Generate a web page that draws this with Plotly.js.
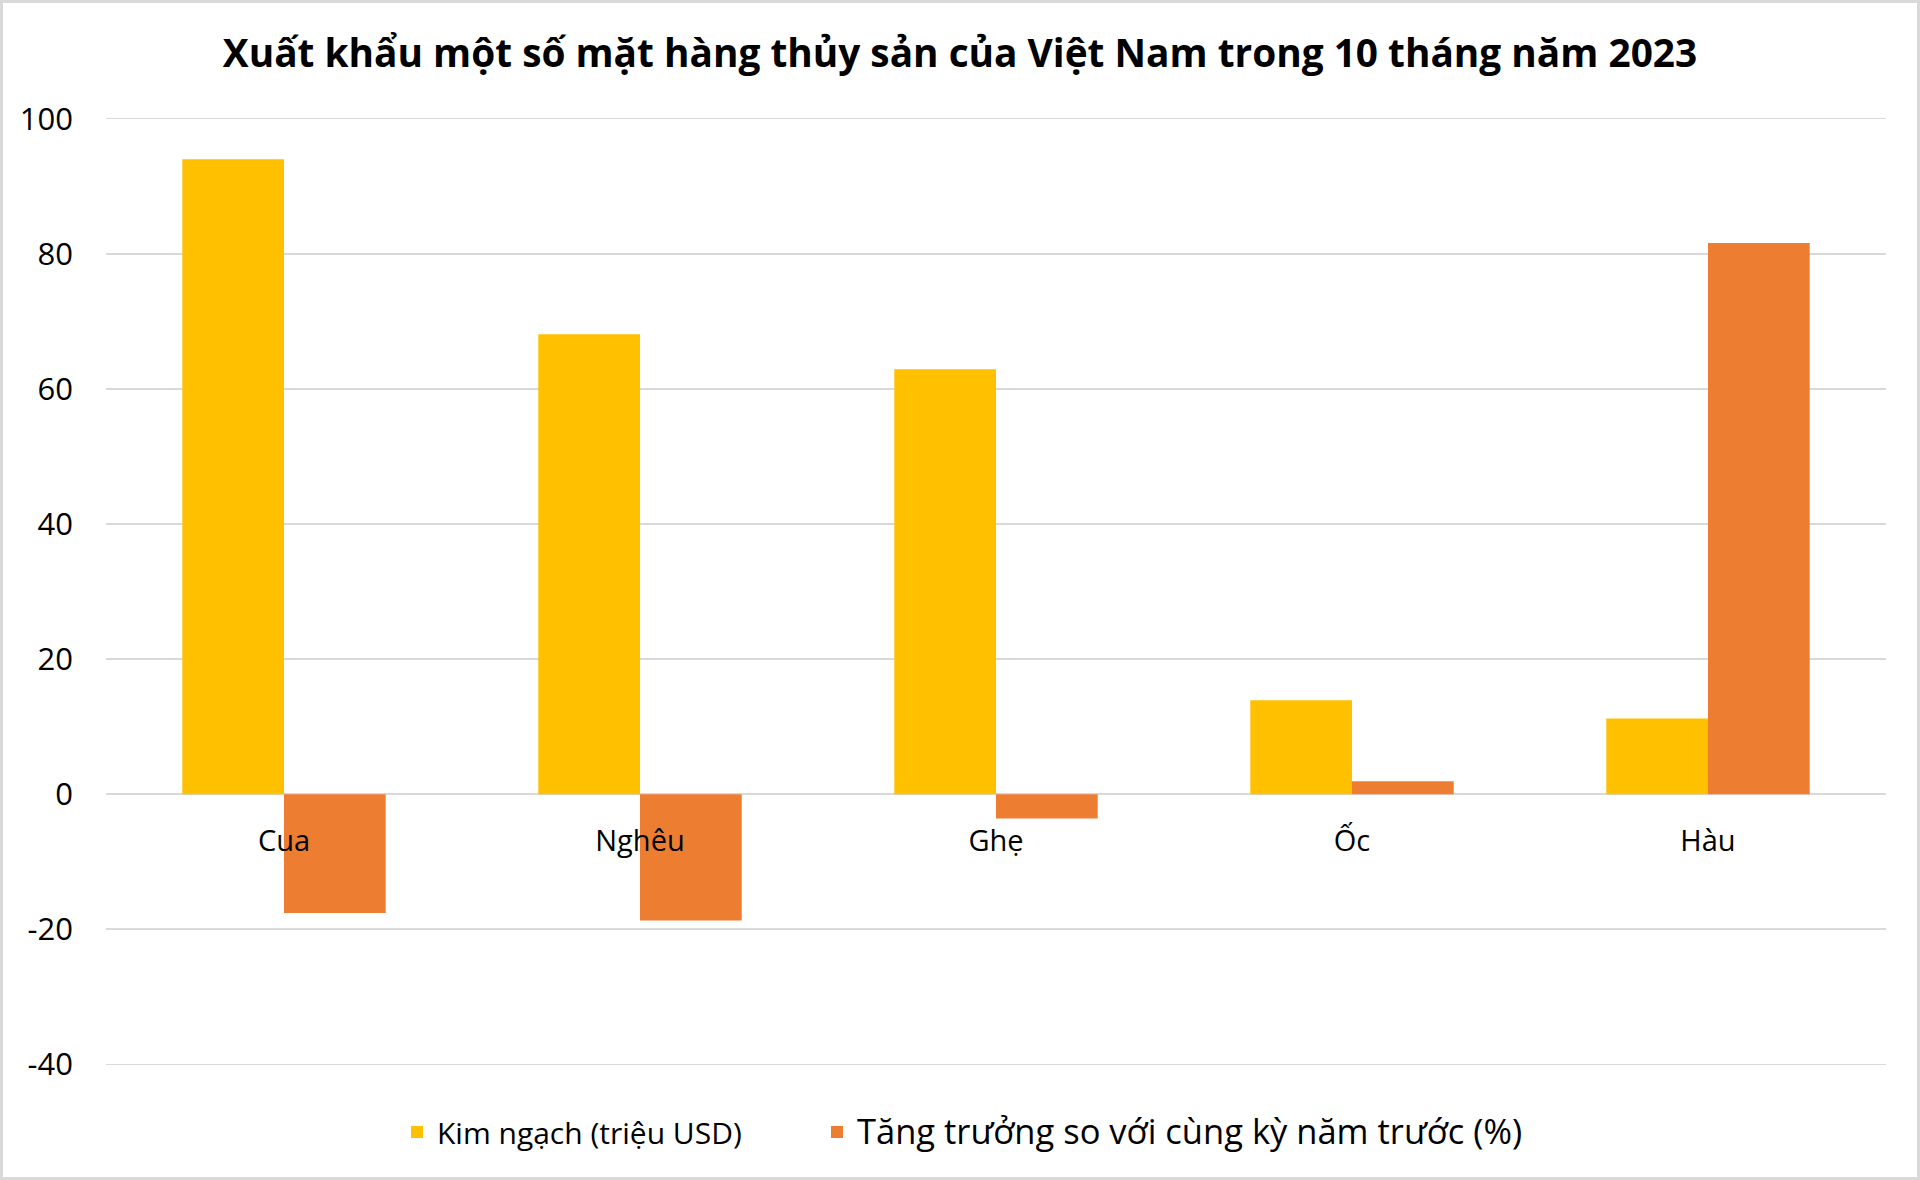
<!DOCTYPE html>
<html>
<head>
<meta charset="utf-8">
<script src="https://cdn.plot.ly/plotly-3.0.1.min.js"></script>
<style>
html,body{margin:0;padding:0;background:#fff;}
#chart{width:1920px;height:1180px;}
</style>
</head>
<body>
<div id="chart"></div>
<script>
const categories = ["Cua", "Nghêu", "Ghẹ", "Ốc", "Hàu"];
const kimNgach = [94, 68.1, 62.9, 13.9, 11.2];
const tangTruong = [-17.6, -18.7, -3.6, 1.9, 81.6];
const seriesNames = ["Kim ngạch (triệu USD)", "Tăng trưởng so với cùng kỳ năm trước (%)"];
const yTicks = [-40, -20, 0, 20, 40, 60, 80, 100];
const titleText = "Xuất khẩu một số mặt hàng thủy sản của Việt Nam trong 10 tháng năm 2023";

const yMin = -40, yMax = 100;
const pad = 0.25;                 // tiny range padding so edge gridlines are drawn
const W = 1920, H = 1180;
const unitPx = 6.75;
const m = {l: 106, r: 34, t: Math.round(119 - pad*unitPx), b: Math.round(116 - pad*unitPx)};
const pw = W - m.l - m.r, ph = H - m.t - m.b;
const px = v => (v - m.l) / pw;          // page x -> paper x
const py = v => (H - m.b - v) / ph;      // page y -> paper y

const traces = [
  {type: "bar", name: '<span style="font-size:30px">' + seriesNames[0] + '</span>',
   x: categories, y: kimNgach, legendwidth: 375,
   marker: {color: "#FFC000"}},
  {type: "bar", name: '<span style="font-size:34.5px">' + seriesNames[1] + '</span>',
   x: categories, y: tangTruong,
   marker: {color: "#ED7D31"}}
];

const layout = {
  width: W, height: H,
  margin: m,
  paper_bgcolor: "#ffffff",
  plot_bgcolor: "#ffffff",
  barmode: "group",
  bargap: 1.5/3.5,
  bargroupgap: 0,
  font: {family: "Open Sans, sans-serif", color: "#000"},
  title: {
    text: "<b>" + titleText + "</b>",
    font: {family: "Open Sans, sans-serif", size: 38.8, color: "#000"},
    x: 0.5, xref: "container", xanchor: "center",
    y: 1 - 53/H, yref: "container", yanchor: "middle"
  },
  xaxis: {
    type: "category",
    anchor: "free",
    position: (0 - (yMin - pad)) / (yMax - yMin + 2*pad),
    showline: false, showgrid: false, zeroline: false,
    ticks: "", ticklabelstandoff: 27,
    tickfont: {family: "Open Sans, sans-serif", size: 29, color: "#000"},
    fixedrange: true
  },
  yaxis: {
    range: [yMin - pad, yMax + pad],
    tickvals: yTicks,
    ticktext: yTicks.map(String),
    showgrid: true, gridcolor: "#d9d9d9", gridwidth: 1.5,
    zeroline: true, zerolinecolor: "#d9d9d9", zerolinewidth: 1.5,
    showline: false, ticks: "",
    ticklabelstandoff: 32,
    tickfont: {family: "Open Sans, sans-serif", size: 31, color: "#000"},
    fixedrange: true
  },
  legend: {
    orientation: "h",
    x: px(397), xanchor: "left",
    y: py(1132), yanchor: "middle",
    font: {family: "Open Sans, sans-serif", size: 30, color: "#000"},
    bgcolor: "rgba(0,0,0,0)"
  },
  shapes: [
    {type: "rect", xref: "paper", yref: "paper",
     x0: px(1.5), x1: px(W - 1.5), y0: py(1.5), y1: py(H - 1.5),
     line: {color: "#d9d9d9", width: 3}, fillcolor: "rgba(0,0,0,0)", layer: "above"}
  ],
  showlegend: true
};

Plotly.newPlot("chart", traces, layout, {displayModeBar: false, staticPlot: true});
</script>
</body>
</html>
